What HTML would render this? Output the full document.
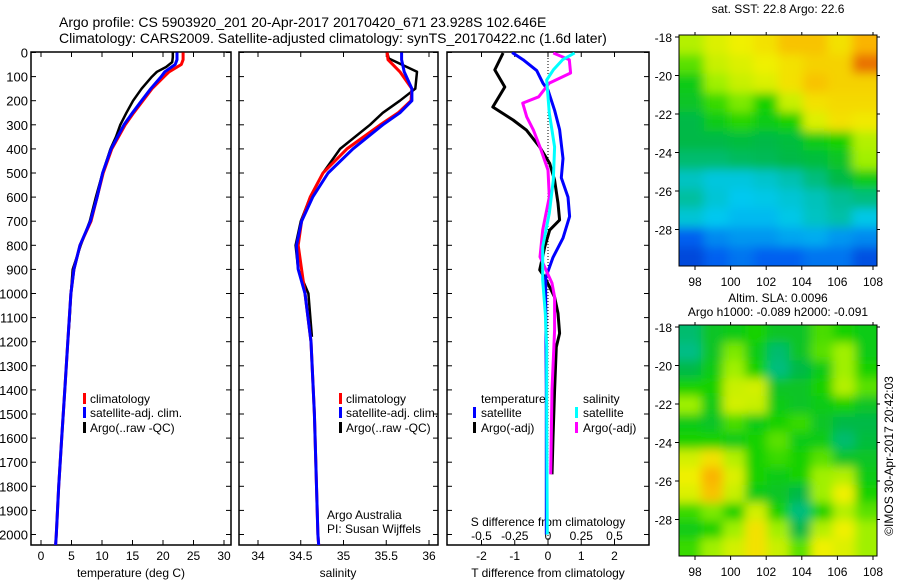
<!DOCTYPE html>
<html><head><meta charset="utf-8"><style>
body{margin:0;background:#fff;}
svg text{font-family:"Liberation Sans",sans-serif;fill:#000;}
</style></head><body>
<svg id="s" width="900" height="580" xmlns="http://www.w3.org/2000/svg">
<defs>
<filter id="bl" x="0" y="0" width="1" height="1"><feGaussianBlur stdDeviation="5"/></filter>
<clipPath id="c1"><rect x="679" y="35" width="198" height="231"/></clipPath>
<clipPath id="c2"><rect x="679" y="325" width="198" height="231"/></clipPath>
<clipPath id="p1"><rect x="31" y="52" width="200" height="493"/></clipPath>
<clipPath id="p2"><rect x="239" y="52" width="199" height="493"/></clipPath>
<clipPath id="p3"><rect x="447" y="52" width="202" height="493"/></clipPath>
</defs>
<text x="59" y="27" font-size="14">Argo profile: CS 5903920_201 20-Apr-2017 20170420_671 23.928S 102.646E</text>
<text x="59" y="43" font-size="14">Climatology: CARS2009. Satellite-adjusted climatology: synTS_20170422.nc (1.6d later)</text>
<g id="g"></g>
</svg>
<script>
// ---- data ----
const depthT=[0,30,50,80,100,150,200,250,300,400,500,600,700,800,900,1000,1200,1400,1600,1800,2000,2045];
const climT=[23.3,23.3,23.0,21.0,20.2,18.2,16.7,15.2,13.8,11.6,10.2,9.2,8.2,6.4,5.4,4.9,4.4,3.9,3.4,2.9,2.5,2.4];
const satT=[22.3,22.3,22.0,20.3,19.7,18.0,16.5,15.0,13.6,11.5,10.1,9.2,8.1,6.4,5.4,4.9,4.4,3.9,3.4,2.9,2.5,2.4];
const depthA=[0,20,40,60,80,100,150,200,250,300,350,400,500,600,700,800,900,1000,1100,1200];
const argoT=[21.6,21.6,21.5,20.5,19.0,18.2,16.5,15.1,14.0,13.0,12.3,11.4,10.1,9.0,8.0,6.5,5.2,4.9,4.7,4.4];
const depthS=[0,30,80,150,200,250,300,400,500,600,700,800,900,1000,1200,1500,2000,2045];
const climS=[35.51,35.52,35.66,35.80,35.79,35.64,35.43,35.04,34.76,34.61,34.51,34.47,34.51,34.55,34.62,34.66,34.70,34.71];
const satS=[35.68,35.68,35.71,35.80,35.80,35.66,35.46,35.11,34.82,34.64,34.51,34.45,34.47,34.55,34.62,34.66,34.70,34.71];
const argoS=[35.51,35.53,35.86,35.84,35.66,35.46,35.31,34.96,34.76,34.61,34.50,34.44,34.47,34.59,34.63];
const depthAS=[0,25,80,150,200,250,300,400,500,600,700,800,900,1000,1180];
const depthD=[0,30,75,128,156,240,320,440,520,600,680,770,850,935,1020,1400,1800,2000];
const satTd=[-1.08,-0.75,-0.34,-0.15,0,0.2,0.35,0.45,0.4,0.6,0.65,0.45,0.15,-0.07,-0.07,-0.05,-0.05,-0.05];
const depthAD=[2,72,143,226,280,322,392,460,530,625,695,737,807,902,932,1015,1082,1165,1222,1400,1600,1750];
const argoTd=[-1.35,-1.6,-1.3,-1.66,-1.05,-0.65,-0.25,0.05,0.2,0.3,0.35,0.05,-0.1,-0.25,-0.1,0.2,0.3,0.35,0.25,0.2,0.15,0.12];
const depthSD=[2,30,85,127,184,210,267,322,392,488,599,737,848,957,1015,1152,1400,1750];
const argoSd=[0.04,0.16,0.17,0.01,-0.07,-0.19,-0.16,-0.11,-0.06,0,0.01,-0.04,-0.06,0.03,0.05,0.05,0.03,0.02];
const depthSS=[2,30,72,114,251,392,530,667,807,944,1082,1220,1500,2000];
const satSd=[0.2,0.11,0.04,-0.01,0.01,0.05,0.04,0.01,-0.04,-0.04,-0.02,-0.01,-0.01,-0.005];
const depthTicks=[0,100,200,300,400,500,600,700,800,900,1000,1100,1200,1300,1400,1500,1600,1700,1800,1900,2000];
const tTicks=[0,5,10,15,20,25,30];
const sTicks=[34,34.5,35,35.5,36];
const tdTicks=[-2,-1,0,1,2];
const sdTicks=[-0.5,-0.25,0,0.25,0.5];
const latTicks=[-18,-20,-22,-24,-26,-28];
const lonTicks=[98,100,102,104,106,108];
const sstGrid=[
[0.72,0.76,0.78,0.8,0.84,0.84,0.8,0.86],
[0.66,0.74,0.76,0.78,0.8,0.82,0.82,0.92],
[0.6,0.7,0.74,0.76,0.8,0.84,0.82,0.82],
[0.58,0.64,0.68,0.62,0.74,0.8,0.81,0.81],
[0.55,0.6,0.63,0.6,0.62,0.76,0.8,0.79],
[0.55,0.55,0.56,0.55,0.56,0.6,0.62,0.72],
[0.5,0.5,0.52,0.53,0.55,0.56,0.58,0.7],
[0.4,0.37,0.37,0.39,0.42,0.48,0.55,0.6],
[0.44,0.38,0.35,0.36,0.38,0.41,0.45,0.48],
[0.38,0.35,0.33,0.33,0.36,0.4,0.43,0.36],
[0.2,0.26,0.28,0.28,0.3,0.31,0.28,0.26],
[0.14,0.2,0.23,0.2,0.2,0.23,0.23,0.16]];
const slaGrid=[
[0.5,0.58,0.6,0.62,0.58,0.58,0.65,0.62,0.6],
[0.47,0.58,0.68,0.6,0.5,0.58,0.66,0.7,0.6],
[0.55,0.6,0.7,0.62,0.48,0.55,0.6,0.7,0.62],
[0.62,0.62,0.74,0.75,0.58,0.58,0.62,0.72,0.66],
[0.7,0.6,0.75,0.74,0.6,0.58,0.6,0.62,0.58],
[0.6,0.58,0.65,0.6,0.62,0.64,0.58,0.55,0.55],
[0.62,0.62,0.6,0.62,0.66,0.6,0.6,0.5,0.56],
[0.75,0.8,0.72,0.62,0.64,0.62,0.66,0.58,0.58],
[0.78,0.86,0.76,0.62,0.6,0.62,0.7,0.72,0.6],
[0.76,0.84,0.74,0.6,0.58,0.55,0.7,0.78,0.62],
[0.64,0.68,0.62,0.75,0.62,0.48,0.62,0.72,0.66],
[0.6,0.62,0.7,0.8,0.7,0.55,0.72,0.78,0.7],
[0.64,0.7,0.75,0.8,0.74,0.66,0.78,0.76,0.7]];

// ---- axes ----
const yD=d=>52.5+d*0.241;
const xT=t=>41+t*6.1;
const xS=s=>258+(s-34)*85.5;
const xTd=d=>548+d*33.25;
const xSd=s=>548+s*133;
const NS="http://www.w3.org/2000/svg";
const G=document.getElementById('g');
function el(tag,at,par){const e=document.createElementNS(NS,tag);for(const k in at)e.setAttribute(k,at[k]);(par||G).appendChild(e);return e;}
function txt(x,y,s,at,par){const e=el('text',Object.assign({x:x,y:y,'font-size':12},at||{}),par);e.textContent=s;return e;}
function line(xs,ys,xf,col,w,clip,name){
  const pts=xs.map((v,i)=>xf(v).toFixed(1)+','+yD(ys[i]).toFixed(1)).join(' ');
  const p=el('polyline',{points:pts,fill:'none',stroke:col,'stroke-width':w,'stroke-linejoin':'round','clip-path':'url(#'+clip+')'});
  
  
}
function panel(x0,x1,name){
  const r=el('rect',{x:x0,y:52,width:x1-x0,height:493,fill:'none',stroke:'#000','stroke-width':1.5});
  
  
  depthTicks.forEach(d=>{el('line',{x1:x0,x2:x0+5,y1:yD(d),y2:yD(d),stroke:'#000'});el('line',{x1:x1,x2:x1-5,y1:yD(d),y2:yD(d),stroke:'#000'});});
}
depthTicks.forEach(d=>{const t=txt(28,yD(d)+5,String(d),{'text-anchor':'end','font-size':13});
  
  });
panel(31,231,'temperature-panel');panel(239,438,'salinity-panel');panel(447,649,'difference-panel');
tTicks.forEach(v=>{const x=xT(v);el('line',{x1:x,x2:x,y1:52,y2:57,stroke:'#000'});el('line',{x1:x,x2:x,y1:545,y2:540,stroke:'#000'});
  const t=txt(x,560,String(v),{'text-anchor':'middle'});
  
  });
sTicks.forEach(v=>{const x=xS(v);el('line',{x1:x,x2:x,y1:52,y2:57,stroke:'#000'});el('line',{x1:x,x2:x,y1:545,y2:540,stroke:'#000'});
  const t=txt(x,560,String(v),{'text-anchor':'middle'});
  
  });
tdTicks.forEach(v=>{const x=xTd(v);el('line',{x1:x,x2:x,y1:52,y2:57,stroke:'#000'});el('line',{x1:x,x2:x,y1:545,y2:540,stroke:'#000'});
  const t=txt(x,560,String(v),{'text-anchor':'middle'});
  
  });
sdTicks.forEach(v=>{const t=txt(xSd(v),540,String(v),{'text-anchor':'middle'});
  
  });
el('line',{x1:548,x2:548,y1:52,y2:545,stroke:'#000','stroke-dasharray':'1,2'});
[[131,'temperature (deg C)','temperature-axis-title'],[338,'salinity','salinity-axis-title'],[548,'T difference from climatology','t-diff-axis-title']].forEach(a=>{
  const t=txt(a[0],577,a[1],{'text-anchor':'middle'});});
{const t=txt(548,526,'S difference from climatology',{'text-anchor':'middle'});}

line(argoT,depthA,xT,'#000',2.5,'p1','argo-temperature-line');
line(climT,depthT,xT,'#f00',3,'p1','clim-temperature-line');
line(satT,depthT,xT,'#00f',3,'p1','satellite-temperature-line');
line(argoS,depthAS,xS,'#000',2.5,'p2','argo-salinity-line');
line(climS,depthS,xS,'#f00',3,'p2','clim-salinity-line');
line(satS,depthS,xS,'#00f',3,'p2','satellite-salinity-line');
line(argoTd,depthAD,xTd,'#000',3,'p3','argo-t-diff-line');
line(satTd,depthD,xTd,'#00f',3,'p3','satellite-t-diff-line');
line(argoSd,depthSD,xSd,'#f0f',3,'p3','argo-s-diff-line');
line(satSd,depthSS,xSd,'#0ff',3,'p3','satellite-s-diff-line');

function leg(mx,tx,y,col,s,name){const g=el('g',{});
  if(col)el('rect',{x:mx,y:y-10,width:3,height:11,fill:col},g);txt(tx,y,s,{'font-size':12},g);}
leg(83,90,403,'#f00','climatology','legend-climatology');
leg(83,90,417,'#00f','satellite-adj. clim.','legend-satellite-adj');
leg(83,90,432,'#000','Argo(..raw -QC)','legend-argo');
leg(339,346,403,'#f00','climatology','legend-climatology-2');
leg(339,346,417,'#00f','satellite-adj. clim.','legend-satellite-adj-2');
leg(339,346,432,'#000','Argo(..raw -QC)','legend-argo-2');
leg(0,481,403,null,'temperature','legend-temperature-heading');
leg(473,481,417,'#00f','satellite','legend-t-satellite');
leg(473,481,432,'#000','Argo(-adj)','legend-t-argo');
leg(0,583,403,null,'salinity','legend-salinity-heading');
leg(575,583,417,'#0ff','satellite','legend-s-satellite');
leg(575,583,432,'#f0f','Argo(-adj)','legend-s-argo');
{const t=txt(327,519,'Argo Australia');}
{const t=txt(327,533,'PI: Susan Wijffels');}

const stops=[[0,[0,20,170]],[0.2,[0,96,240]],[0.35,[0,200,240]],[0.45,[0,190,150]],[0.55,[0,185,70]],[0.62,[20,210,0]],[0.7,[160,240,0]],[0.78,[240,240,0]],[0.86,[250,180,0]],[0.95,[224,80,0]],[1,[160,0,0]]];
function cmap(v){for(let i=1;i<stops.length;i++){if(v<=stops[i][0]){const a=stops[i-1],b=stops[i],f=(v-a[0])/(b[0]-a[0]);return 'rgb('+a[1].map((c,k)=>Math.round(c+(b[1][k]-c)*f)).join(',')+')';}}return 'rgb(160,0,0)';}
function map(grid,y0,clip,name){
  const x0=679,w=198,h=231,rows=grid.length,cols=grid[0].length;
  const gg=el('g',{'clip-path':'url(#'+clip+')'});
  el('rect',{x:x0,y:y0,width:w,height:h,fill:cmap(grid[Math.floor(rows/2)][Math.floor(cols/2)])},gg);
  const inner=el('g',{filter:'url(#bl)'},gg);
  const cw=w/cols,ch=h/rows;
  grid.forEach((r,i)=>r.forEach((v,j)=>{const c=el('rect',{x:(x0+j*cw-(j==0?12:0)).toFixed(1),y:(y0+i*ch-(i==0?12:0)).toFixed(1),width:(cw+1+(j==0||j==cols-1?12:0)).toFixed(1),height:(ch+1+(i==0||i==rows-1?12:0)).toFixed(1),fill:cmap(v)},inner);
    
    }));
  el('rect',{x:x0,y:y0,width:w,height:h,fill:'none',stroke:'#000','stroke-width':1});
  const latY=l=>y0+2+(-18-l)*19.25;
  latTicks.forEach(l=>{const y=latY(l);el('line',{x1:x0-4,x2:x0,y1:y,y2:y,stroke:'#000'});el('line',{x1:x0+w,x2:x0+w+3,y1:y,y2:y,stroke:'#000'});
    const t=txt(x0-7,y+5,String(l),{'text-anchor':'end','font-size':12});});
  lonTicks.forEach(l=>{const x=695+(l-98)*17.8;el('line',{x1:x,x2:x,y1:y0+h,y2:y0+h+4,stroke:'#000'});el('line',{x1:x,x2:x,y1:y0,y2:y0-3,stroke:'#000'});
    const t=txt(x,y0+h+20,String(l),{'text-anchor':'middle','font-size':12});});
}
map(sstGrid,35,'c1','sst-map');
map(slaGrid,325,'c2','sla-map');
{const t=txt(778,13,'sat. SST: 22.8 Argo: 22.6',{'text-anchor':'middle'});}
{const t=txt(778,302,'Altim. SLA: 0.0096',{'text-anchor':'middle'});}
{const t=txt(778,316,'Argo h1000: -0.089 h2000: -0.091',{'text-anchor':'middle'});}
{const t=txt(0,0,'©IMOS 30-Apr-2017 20:42:03',{'text-anchor':'middle',transform:'translate(893,456) rotate(-90)'});}
</script>
</body></html>
